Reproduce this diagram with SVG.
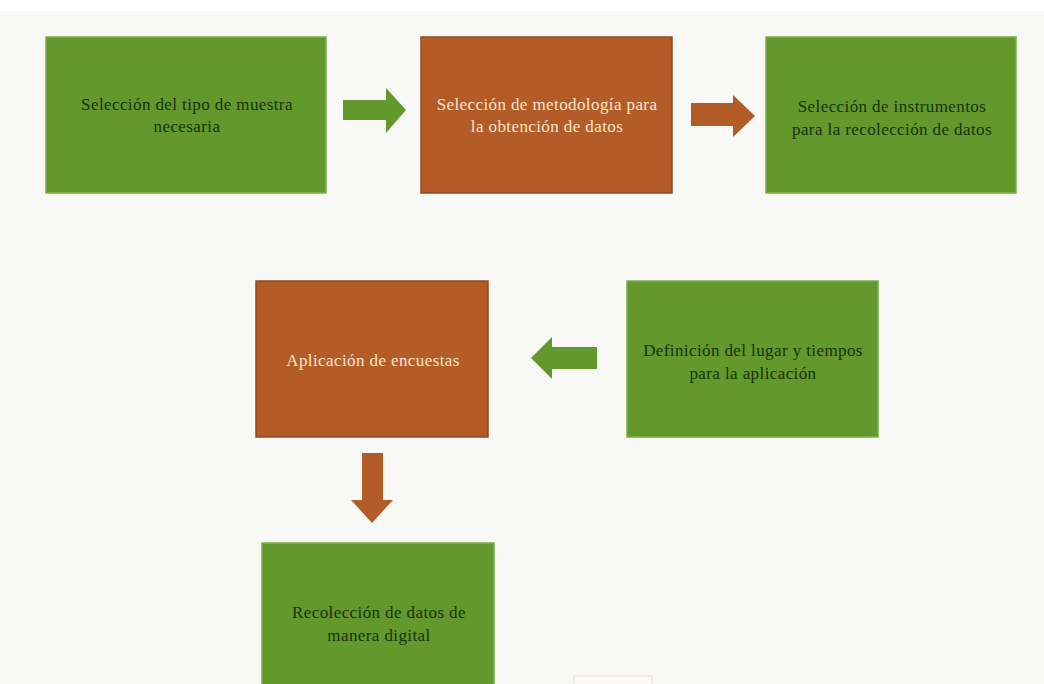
<svg xmlns="http://www.w3.org/2000/svg" width="1044" height="684" viewBox="0 0 1044 684">
  <defs>
    <style>
      .green { fill: #63982d; stroke: #79b043; stroke-width: 1.5; }
      .orange { fill: #b35c28; stroke: #8e4a22; stroke-width: 1.5; }
      .arrow-g { fill: #63982d; }
      .arrow-o { fill: #b35c28; }
      text { font-family: "Liberation Serif", "Times New Roman", serif; font-size: 17px; letter-spacing: 0.4px; text-anchor: middle; }
      .dark { fill: #173208; }
      .light { fill: #fbe6cf; }
    </style>
  </defs>

  <!-- page -->
  <rect x="0" y="0" width="1044" height="684" fill="#f8f8f7"/>
  <rect x="0" y="0" width="1044" height="11" fill="#ffffff"/>

  <!-- step 1 -->
  <g id="node-muestra">
    <rect class="green" x="46" y="37" width="280" height="156"/>
    <text class="dark" x="187" y="110">Selección del tipo de muestra</text>
    <text class="dark" x="187" y="132">necesaria</text>
  </g>

  <!-- step 2 -->
  <g id="node-metodologia">
    <rect class="orange" x="421" y="37" width="251" height="156"/>
    <text class="light" x="547" y="110">Selección de metodología para</text>
    <text class="light" x="547" y="132">la obtención de datos</text>
  </g>

  <!-- step 3 -->
  <g id="node-instrumentos">
    <rect class="green" x="766" y="37" width="250" height="156"/>
    <text class="dark" x="892" y="112">Selección de instrumentos</text>
    <text class="dark" x="892" y="135">para la recolección de datos</text>
  </g>

  <!-- step 4 -->
  <g id="node-lugar">
    <rect class="green" x="627" y="281" width="251" height="156"/>
    <text class="dark" x="753" y="356">Definición del lugar y tiempos</text>
    <text class="dark" x="753" y="379">para la aplicación</text>
  </g>

  <!-- step 5 -->
  <g id="node-encuestas">
    <rect class="orange" x="256" y="281" width="232" height="156"/>
    <text class="light" x="373" y="366">Aplicación de encuestas</text>
  </g>

  <!-- step 6 -->
  <g id="node-recoleccion">
    <rect class="green" x="262" y="543" width="232" height="150"/>
    <text class="dark" x="379" y="618">Recolección de datos de</text>
    <text class="dark" x="379" y="641">manera digital</text>
  </g>

  <!-- block arrows between steps -->
  <g id="connectors">
    <polygon class="arrow-g" points="343,100 386,100 386,88 406,110 386,133 386,120 343,120"/>
    <polygon class="arrow-o" points="691,103 733,103 733,95 755,116 733,137 733,126 691,126"/>
    <polygon class="arrow-g" points="597,347 552,347 552,337 531,358 552,379 552,369 597,369"/>
    <polygon class="arrow-o" points="362,453 383,453 383,500 393,500 372,523 351,500 362,500"/>
  </g>

  <!-- faint tab at the page foot -->
  <rect x="574" y="676" width="78" height="12" fill="#fbfaf8" stroke="#efdccd" stroke-width="1"/>
</svg>
